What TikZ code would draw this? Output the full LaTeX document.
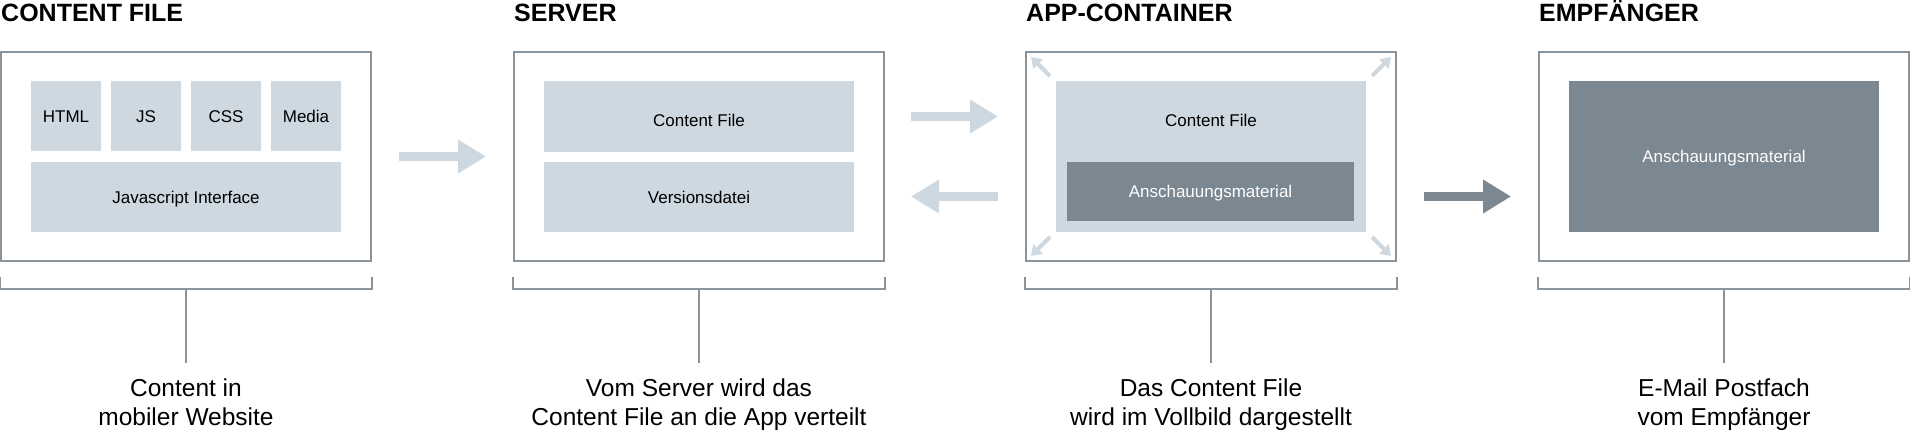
\documentclass[tikz,border=0pt]{standalone}
\usepackage{fontspec}
\setmainfont{Liberation Sans}
\usetikzlibrary{arrows.meta}

\definecolor{framegray}{HTML}{8A949C}
\definecolor{partblue}{HTML}{CDD8E0}
\definecolor{visualgray}{HTML}{7B8791}

\tikzset{>=latex,
  panel/.style={draw=framegray, line width=2pt, fill=white, minimum width=370pt, minimum height=209pt, inner sep=0pt},
  caption/.style={inner sep=0pt, font=\fontsize{17}{20}\selectfont, text height=12.2pt, text depth=0pt},
  part/.style={caption, fill=partblue},
  visual/.style={part, fill=visualgray, text=white},
  title/.style={anchor=base west, inner sep=0pt, font=\fontsize{25}{30}\selectfont\bfseries},
  note/.style={anchor=north, inner sep=0pt, align=center, font=\fontsize{24.5}{29}\selectfont},
  bracket/.style={draw=framegray, line width=2pt},
  flow/.style={line width=9.5pt, -{Triangle[width=32pt,length=28pt]}},
  fullscreen/.style={draw=partblue, line width=4pt, -{Triangle[width=13pt,length=10pt]}}
}

\begin{document}
\begin{tikzpicture}[x=1pt, y=-1pt]
    \useasboundingbox (0,0) rectangle (1910,436);

    % panels
    \node[panel] (content) at (186,156.5) {};
    \node[panel] (server) at (699,156.5) {};
    \node[panel] (app) at (1211,156.5) {};
    \node[panel] (inbox) at (1724,156.5) {};

    \node[title] (contenttitle) at ([shift={(1,-29)}]content.north west) {CONTENT FILE};
    \node[title] (servertitle) at ([shift={(1,-29)}]server.north west) {SERVER};
    \node[title] (apptitle) at ([shift={(1,-29)}]app.north west) {APP-CONTAINER};
    \node[title] (inboxtitle) at ([shift={(1,-29)}]inbox.north west) {EMPFÄNGER};

    % content file
    \node[part, minimum width=70pt, minimum height=70pt] (html) at (66,116) {HTML};
    \node[part, minimum width=70pt, minimum height=70pt] (js) at (146,116) {JS};
    \node[part, minimum width=70pt, minimum height=70pt] (css) at (226,116) {CSS};
    \node[part, minimum width=70pt, minimum height=70pt] (media) at (306,116) {Media};
    \node[part, minimum width=310pt, minimum height=70pt] (jsapi) at (186,197) {Javascript Interface};

    % server
    \node[part, minimum width=310pt, minimum height=71pt] (serverfile) at (699,116.5) {};
    \node[caption] (serverfilelabel) at (699,120) {Content File};
    \node[part, minimum width=310pt, minimum height=70pt] (version) at (699,197) {Versionsdatei};

    % app-container
    \node[part, minimum width=310pt, minimum height=151pt] (appfile) at (1211,156.5) {};
    \node[caption] (appfilelabel) at (1211,120) {Content File};
    \node[visual, minimum width=287pt, minimum height=59pt] (appvisual) at (1210.5,191.5) {Anschauungsmaterial};

    \draw[fullscreen] ([shift={(25,25)}]app.north west) -- ([shift={(6,6)}]app.north west);
    \draw[fullscreen] ([shift={(-25,25)}]app.north east) -- ([shift={(-6,6)}]app.north east);
    \draw[fullscreen] ([shift={(25,-25)}]app.south west) -- ([shift={(6,-6)}]app.south west);
    \draw[fullscreen] ([shift={(-25,-25)}]app.south east) -- ([shift={(-6,-6)}]app.south east);

    % empfaenger
    \node[visual, minimum width=310pt, minimum height=151pt] (inboxvisual) at (1724,156.5) {Anschauungsmaterial};

    % arrows
    \draw[flow, draw=partblue] ([shift={(27,0)}]content.east) -- ([shift={(-27,0)}]server.west);
    \draw[flow, draw=partblue] ([shift={(26,-40)}]server.east) -- ([shift={(-27,-40)}]app.west);
    \draw[flow, draw=partblue] ([shift={(-27,40)}]app.west) -- ([shift={(26,40)}]server.east);
    \draw[flow, draw=visualgray] ([shift={(27,40)}]app.east) -- ([shift={(-27,40)}]inbox.west);

    % notes
    \node[note] (contentnote) at (186,379) {Content in\\mobiler Website};
    \node[note] (servernote) at (699,379) {Vom Server wird das\\Content File an die App verteilt};
    \node[note] (appnote) at (1211,379) {Das Content File\\wird im Vollbild dargestellt};
    \node[note] (inboxnote) at (1724,379) {E-Mail Postfach\\vom Empfänger};

    \foreach \p in {content,server,app,inbox} {
        \draw[bracket] ([shift={(0,15)}]\p.south west) -- ++(0,12) -- ([shift={(0,27)}]\p.south east) -- ++(0,-12);
        \draw[bracket, shorten >=16pt] ([shift={(0,27)}]\p.south) -- (\p note.north);
    }
\end{tikzpicture}
\end{document}
